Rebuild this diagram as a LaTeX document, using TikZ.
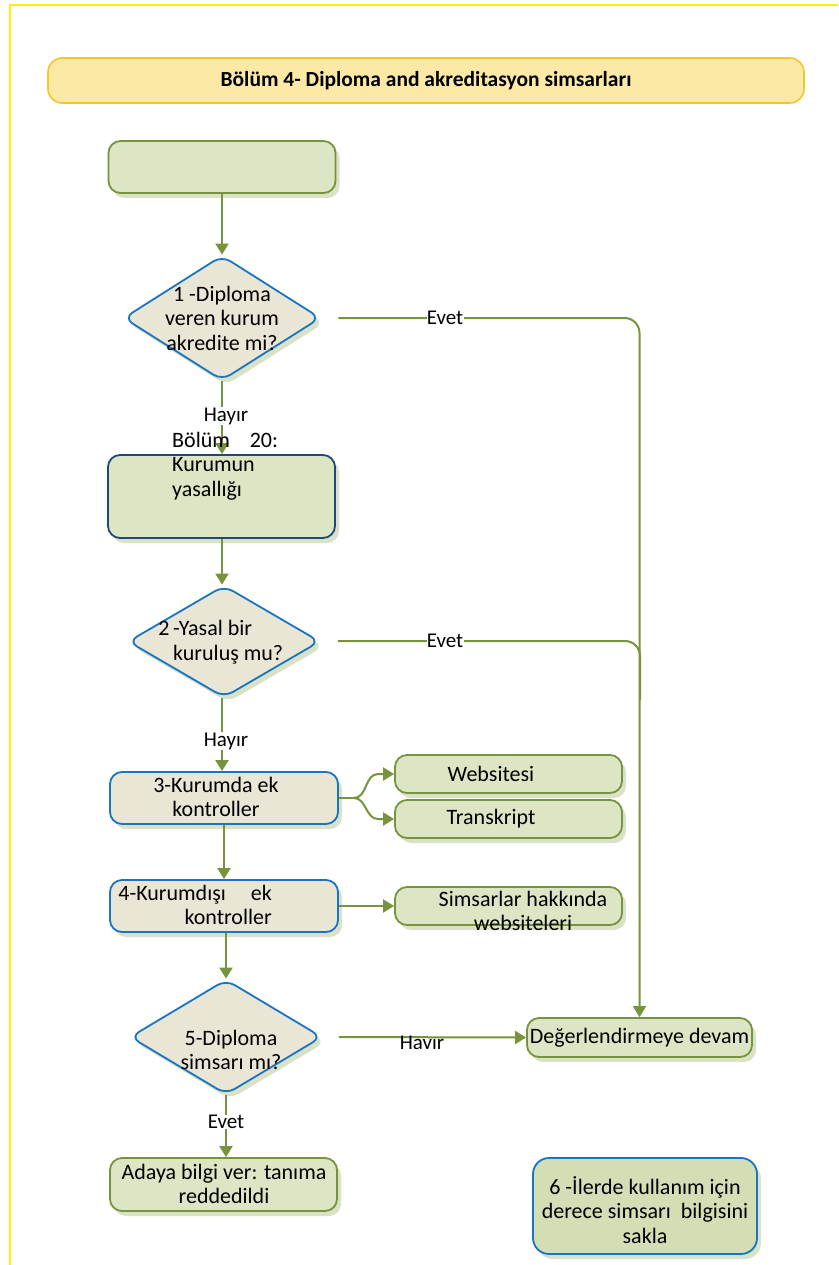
\documentclass[tikz,border=0pt]{standalone}
\usepackage{fontspec}
\setmainfont{Carlito}
\usetikzlibrary{shapes.geometric,arrows.meta,shadows}
\definecolor{lgreen}{HTML}{DCE6C4}
\definecolor{dgreenfill}{HTML}{D3DEB5}
\definecolor{beige}{HTML}{EAE6D6}
\definecolor{bgreen}{HTML}{77933C}
\definecolor{blueb}{HTML}{1A74C4}
\definecolor{navy}{HTML}{1F497D}
\definecolor{shadowc}{HTML}{D9E2C6}
\definecolor{titlefill}{HTML}{FDE9A6}
\definecolor{titledraw}{HTML}{F6C52E}
\definecolor{pageline}{HTML}{FFF200}
\tikzset{
  shade box/.style={drop shadow={shadow xshift=4pt, shadow yshift=-5pt, fill=shadowc, opacity=1}},
  boxbase/.style={rectangle, rounded corners=12pt, line width=1.8pt, inner sep=0pt, shade box},
  greenbox/.style={boxbase, draw=bgreen, fill=lgreen},
  beigebox/.style={boxbase, draw=blueb, fill=beige},
  dia/.style={diamond, draw=blueb, fill=beige, line width=1.8pt, rounded corners=10pt,
    inner sep=0pt, shade box},
  conn/.style={draw=bgreen, line width=2pt},
  arr/.style={conn, -{Triangle[width=13pt,length=11pt]}},
  lbl/.style={font=\fontsize{21}{24}\selectfont, inner sep=0.3pt},
  txt/.style={font=\fontsize{22}{24.5}\selectfont, align=center, inner sep=0pt},
}
\begin{document}
\begin{tikzpicture}[x=1pt,y=-1pt]
\useasboundingbox (0,0) rectangle (838,1265);
\draw[pageline, line width=2pt] (10,1265) -- (10,5) -- (838,5);

% title
\node[rectangle, rounded corners=14pt, draw=titledraw, fill=titlefill, line width=1.6pt,
  minimum width=756pt, minimum height=45pt, font=\bfseries\fontsize{21.5}{24}\selectfont]
  (title) at (426,80.5) {Bölüm 4- Diploma and akreditasyon simsarları};

% nodes
\node[greenbox, minimum width=227pt, minimum height=52pt] (start) at (222,167) {};
\node[dia, minimum width=197pt, minimum height=125pt] (d1) at (222,318) {};
\node[txt] (t1) at (222,318) {1 -Diploma\\veren kurum\\akredite mi?};

\node[greenbox, draw=navy, minimum width=227pt, minimum height=83pt] (b2) at (221.5,496.5) {};

\node[dia, minimum width=192pt, minimum height=112pt] (d2) at (224,641.5) {};
\node[txt, align=left, anchor=west] (t2) at (173,642) {\llap{2\,}-Yasal bir\\kuruluş mu?};

\node[beigebox, minimum width=228pt, minimum height=52pt] (b3) at (224,798) {};
\node[greenbox, minimum width=227pt, minimum height=38pt] (web) at (508.5,774) {};
\node[txt] (tweb) at (491,774) {Websitesi};
\node[greenbox, minimum width=227pt, minimum height=38pt] (tra) at (508.5,819) {};
\node[txt] (ttra) at (491,819) {Transkript};

\node[beigebox, minimum width=228pt, minimum height=52pt] (b4) at (224,906) {};
\node[greenbox, minimum width=227pt, minimum height=38pt] (sim) at (508.5,906) {};

\node[dia, minimum width=192pt, minimum height=115pt] (d5) at (226,1037) {};

\node[greenbox, minimum width=225pt, minimum height=39pt] (deg) at (639.5,1037.5) {};
\node[txt] (tdeg) at (639.5,1038) {Değerlendirmeye devam};

\node[greenbox, minimum width=227pt, minimum height=53pt] (ada) at (223.5,1184.5) {};
\node[txt] (tada) at (224,1184) {Adaya bilgi ver: tanıma\\reddedildi};

\node[boxbase, draw=blueb, fill=dgreenfill, rounded corners=16pt, minimum width=224pt, minimum height=96pt] (b6) at (645,1206) {};
\node[txt] (t6) at (645,1210) {6 -İlerde kullanım için\\derece simsarı\ \ bilgisini\\sakla};

% connectors
\draw[arr] (start.south) -- (d1.north);
\draw[arr, rounded corners=15pt] ([xshift=17pt]d1.east) -| (deg.north);
\node[lbl, fill=white] (e1) at (445,318) {Evet};
\coordinate (merge) at (640,700);
\draw[conn, rounded corners=15pt] ([xshift=17pt]d2.east |- 0,641) -| (merge);
\node[lbl, fill=white] (e2) at (445,641) {Evet};

\draw[arr] (d1.south) -- (d1.south |- b2.north);
\node[lbl, fill=white] (h1) at (226,416) {Hayır};
\draw[arr] (b2.south -| d1.south) -- (d2.north -| d1.south);
\draw[arr] (d2.south -| d1.south) -- (d1.south |- b3.north);
\node[lbl, fill=white] (h2) at (226,741) {Hayır};

\draw[conn] (b3.east) -- (354,798);
\draw[arr] (354,798) to[out=0,in=180] (378,774) -- (web.west);
\draw[arr] (354,798) to[out=0,in=180] (378,819) -- (tra.west);
\draw[arr] (b3.south) -- (b4.north);
\draw[arr] (b4.east) -- (sim.west);
\draw[arr] (b4.south -| d5.north) -- (d5.north);
\draw[arr] ([xshift=16pt]d5.east) -- (deg.west);
\node[lbl] (h3) at (422,1043) {Havır};
\draw[arr] (d5.south) -- (d5.south |- ada.north);
\node[lbl, fill=white] (e3) at (226,1122) {Evet};

% texts drawn over
\node[txt, align=left, anchor=west] (t20) at (172,466) {Bölüm\ \ \ \ 20:\\Kurumun\\yasallığı};
\node[txt] (t3) at (216,797) {3-Kurumda ek\\kontroller};
\node[txt, align=right, anchor=east] (t4) at (272,905) {4-Kurumdışı\ \ \ \ \ ek\\kontroller};
\node[txt] (tsim) at (523,911) {Simsarlar hakkında\\websiteleri};
\node[txt] (t5) at (231,1050) {5-Diploma\\simsarı mı?};
\end{tikzpicture}
\end{document}
